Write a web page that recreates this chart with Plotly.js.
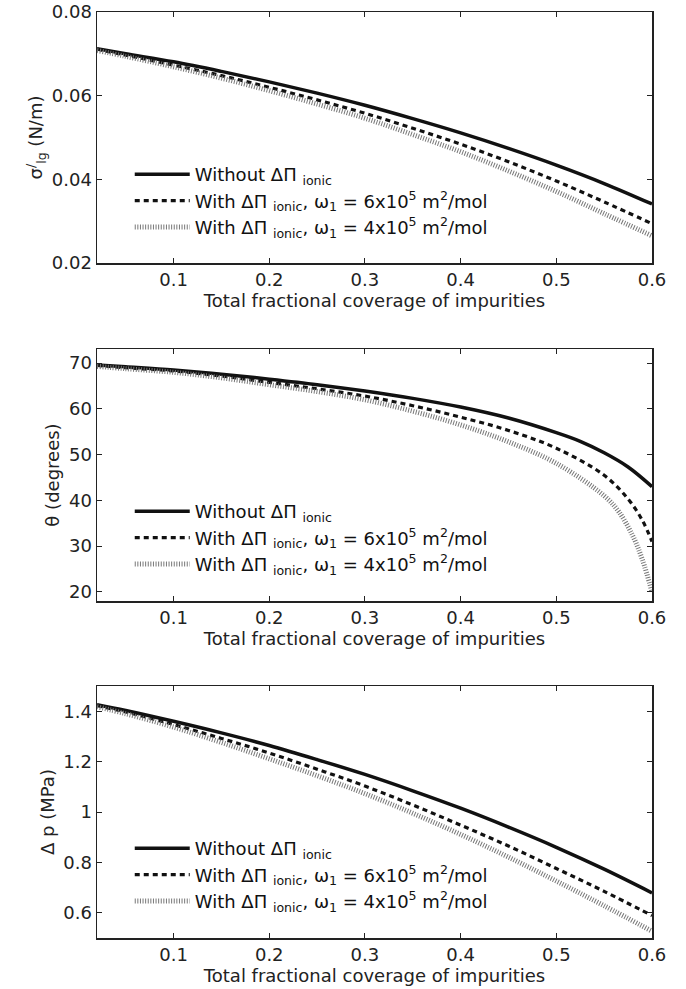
<!DOCTYPE html>
<html>
<head>
<meta charset="utf-8">
<script src="https://cdn.plot.ly/plotly-3.0.1.min.js"></script>
<style>html,body{margin:0;padding:0;background:#fff;}#chart{width:686px;height:989px;}</style>
</head>
<body>
<div id="chart"></div>
<script>
// ---- data ----
const seriesNames = [
  "Without ΔΠ <sub>ionic</sub>",
  "With ΔΠ <sub>ionic</sub>, ω<sub>1</sub> = 6x10<sup>5</sup> m<sup>2</sup>/mol",
  "With ΔΠ <sub>ionic</sub>, ω<sub>1</sub> = 4x10<sup>5</sup> m<sup>2</sup>/mol"
];
const coverage = [0.02, 0.05, 0.10, 0.15, 0.20, 0.25, 0.30, 0.35, 0.40, 0.45, 0.50, 0.55, 0.60];

// surface tension sigma'_lg (N/m)
const sigmaWithout = [0.0712, 0.0700, 0.0681, 0.0658, 0.0633, 0.0606, 0.0577, 0.0545, 0.0511, 0.0474, 0.0434, 0.0390, 0.0341];
const sigmaW6 =      [0.0711, 0.0697, 0.0673, 0.0648, 0.0620, 0.0590, 0.0558, 0.0522, 0.0484, 0.0442, 0.0396, 0.0346, 0.0294];
const sigmaW4 =      [0.0708, 0.0694, 0.0669, 0.0642, 0.0612, 0.0580, 0.0546, 0.0507, 0.0466, 0.0420, 0.0371, 0.0318, 0.0265];

// contact angle theta (degrees)
const thetaXWithout = [0.02, 0.05, 0.10, 0.15, 0.20, 0.25, 0.30, 0.35, 0.40, 0.45, 0.50, 0.525, 0.55, 0.575, 0.60];
const thetaWithout =  [69.6, 69.2, 68.5, 67.6, 66.5, 65.3, 63.9, 62.3, 60.4, 58.0, 54.8, 52.9, 50.4, 47.3, 43.0];
const thetaXW6 = [0.02, 0.05, 0.10, 0.15, 0.20, 0.25, 0.30, 0.35, 0.40, 0.45, 0.50, 0.55, 0.575, 0.59, 0.60];
const thetaW6 =  [69.5, 69.0, 68.3, 67.2, 65.8, 64.4, 62.8, 60.7, 58.2, 55.3, 51.4, 45.5, 40.3, 35.6, 31.0];
const thetaXW4 = [0.02, 0.05, 0.10, 0.15, 0.20, 0.25, 0.30, 0.35, 0.40, 0.45, 0.50, 0.55, 0.565, 0.58, 0.59, 0.60];
const thetaW4 =  [69.3, 68.8, 68.0, 66.8, 65.3, 63.8, 62.0, 59.5, 56.5, 52.8, 48.1, 41.0, 37.6, 32.2, 27.0, 20.0];

// pressure difference (MPa)
const dpWithout = [1.426, 1.403, 1.360, 1.314, 1.264, 1.208, 1.149, 1.084, 1.015, 0.940, 0.860, 0.773, 0.679];
const dpW6 =      [1.422, 1.397, 1.347, 1.292, 1.234, 1.170, 1.103, 1.028, 0.948, 0.865, 0.776, 0.685, 0.589];
const dpW4 =      [1.418, 1.390, 1.337, 1.276, 1.211, 1.144, 1.073, 0.995, 0.911, 0.821, 0.726, 0.628, 0.527];

const xTitle = "Total fractional coverage of impurities";
const yTitles = ["σ<sup>/</sup><sub>lg</sub> (N/m)", "θ (degrees)", "Δ p (MPa)"];
const xTicks = [0.1, 0.2, 0.3, 0.4, 0.5, 0.6];
const yTicks1 = [0.02, 0.04, 0.06, 0.08];
const yTicks2 = [20, 30, 40, 50, 60, 70];
const yTicks3 = [0.6, 0.8, 1, 1.2, 1.4];

// ---- styles ----
const styles = [
  {color: "#111", width: 3.5, dash: "solid"},
  {color: "#111", width: 3.2, dash: "5px,4px"},
  {color: "#777", width: 5, dash: "1px,1.6px"}
];
const fontFam = "DejaVu Sans, Verdana, sans-serif";
const FS = 18;

function mk(x, y, i, xa, ya, leg) {
  return {x: x, y: y, type: "scatter", mode: "lines", name: seriesNames[i],
    xaxis: xa, yaxis: ya, legend: leg,
    line: {color: styles[i].color, width: styles[i].width, dash: styles[i].dash, shape: "spline", smoothing: 1}};
}

const traces = [
  mk(coverage, sigmaWithout, 0, "x", "y", "legend"),
  mk(coverage, sigmaW6, 1, "x", "y", "legend"),
  mk(coverage, sigmaW4, 2, "x", "y", "legend"),
  mk(thetaXWithout, thetaWithout, 0, "x2", "y2", "legend2"),
  mk(thetaXW6, thetaW6, 1, "x2", "y2", "legend2"),
  mk(thetaXW4, thetaW4, 2, "x2", "y2", "legend2"),
  mk(coverage, dpWithout, 0, "x3", "y3", "legend3"),
  mk(coverage, dpW6, 1, "x3", "y3", "legend3"),
  mk(coverage, dpW4, 2, "x3", "y3", "legend3")
];

const H = 989;
function dom(top, bottom) { return [1 - bottom / H, 1 - top / H]; }

function xax(anchor) {
  return {anchor: anchor, range: [0.02, 0.6], tickvals: xTicks, ticktext: xTicks.map(String),
    ticks: "inside", ticklen: 5, tickwidth: 1, tickcolor: "#222",
    showline: true, linecolor: "#222", linewidth: 1.5, mirror: "ticks",
    showgrid: false, zeroline: false,
    tickfont: {family: fontFam, size: FS, color: "#222"},
    title: {text: xTitle, font: {family: fontFam, size: FS, color: "#222"}, standoff: 0}};
}
function yax(anchor, d, r, tv, title) {
  return {anchor: anchor, domain: d, range: r, tickvals: tv, ticktext: tv.map(String),
    ticks: "inside", ticklen: 5, tickwidth: 1, tickcolor: "#222",
    showline: true, linecolor: "#222", linewidth: 1.5, mirror: "ticks",
    showgrid: false, zeroline: false,
    tickfont: {family: fontFam, size: FS, color: "#222"},
    title: {text: title, font: {family: fontFam, size: FS, color: "#222"}, standoff: 4}};
}
function leg(yPx) {
  return {x: 0.059, y: 1 - yPx / H, xanchor: "left", yanchor: "top", bgcolor: "rgba(0,0,0,0)",
    borderwidth: 0, tracegroupgap: 0, itemwidth: 55,
    font: {family: fontFam, size: FS, color: "#111"}};
}

const layout = {
  width: 686, height: 989,
  margin: {l: 97, r: 34, t: 0, b: 0},
  paper_bgcolor: "#fff", plot_bgcolor: "#fff",
  showlegend: true,
  xaxis: xax("y"),
  yaxis: yax("x", dom(12, 263), [0.02, 0.08], yTicks1, yTitles[0]),
  xaxis2: xax("y2"),
  yaxis2: yax("x2", dom(349, 601), [18, 73.1], yTicks2, yTitles[1]),
  xaxis3: xax("y3"),
  yaxis3: yax("x3", dom(686, 938), [0.5, 1.5], yTicks3, yTitles[2]),
  legend: leg(156),
  legend2: leg(493),
  legend3: leg(830)
};

Plotly.newPlot("chart", traces, layout, {staticPlot: true, displayModeBar: false});
</script>
</body>
</html>
